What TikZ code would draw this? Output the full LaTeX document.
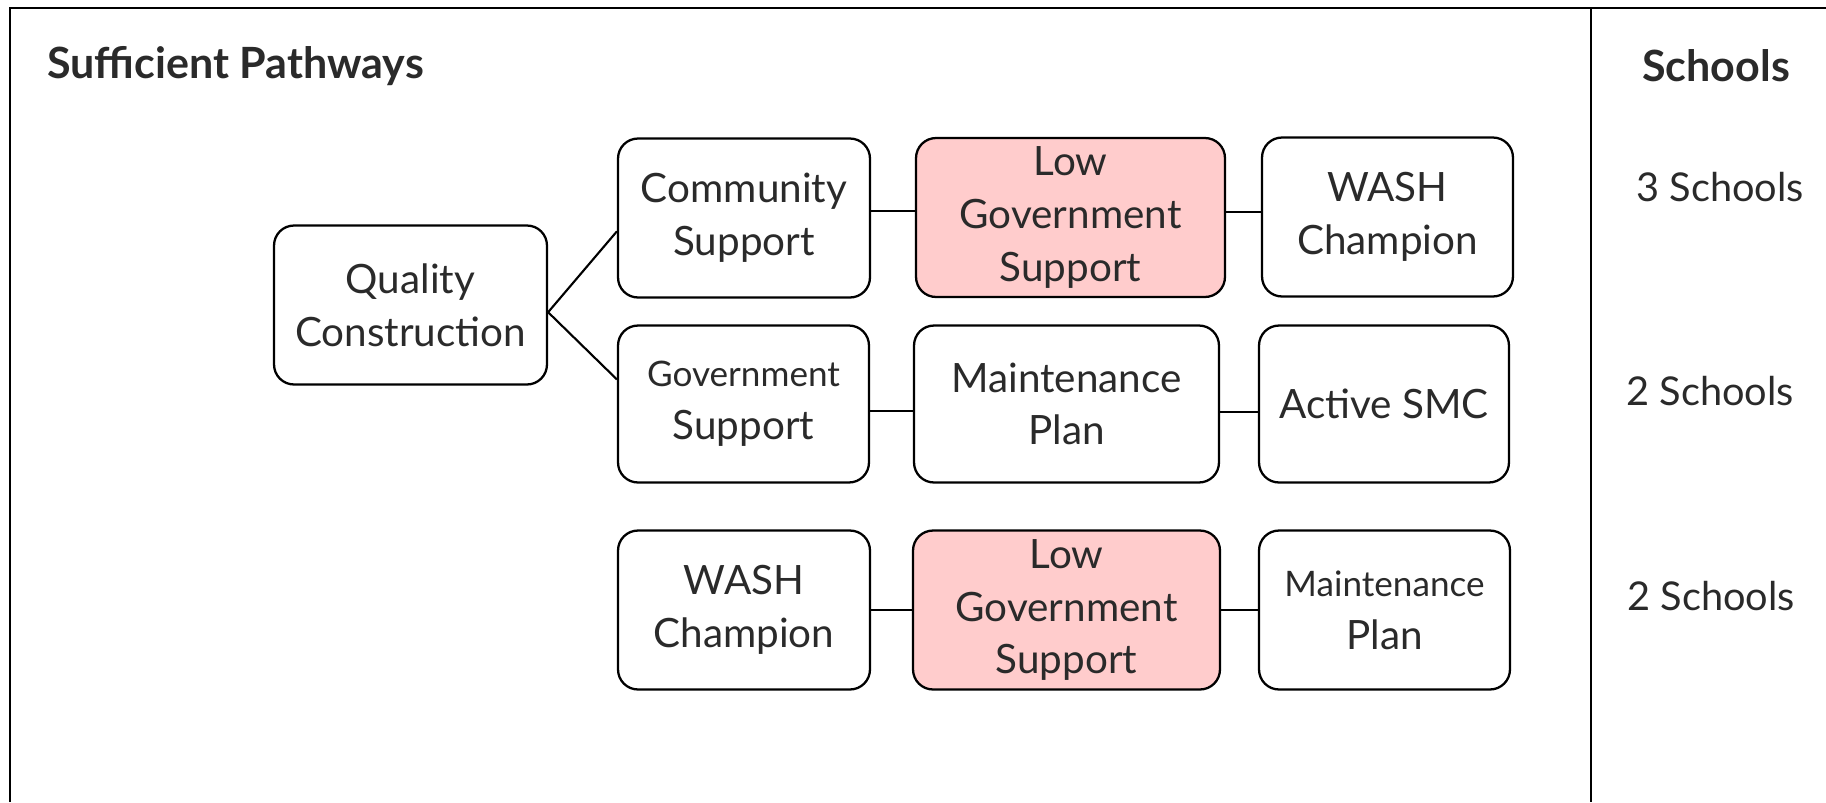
\documentclass[tikz,border=0pt]{standalone}
\usepackage{fontspec}
\setmainfont{Lato}
\usepackage{tikz}
\definecolor{lowpink}{HTML}{FFCCCC}
\definecolor{inkgray}{HTML}{2A2A2A}
\newcommand{\smalltxt}[1]{{\fontsize{20}{22}\selectfont #1}}

\begin{document}
\begin{tikzpicture}[x=0.02cm,y=-0.02cm,
  box/.style={draw, line width=1.3pt, rounded corners=0.4cm, align=center, text=inkgray,
    font=\fontsize{23}{30}\selectfont, minimum height=3.18cm, inner sep=0pt},
  lowbox/.style={box, fill=lowpink},
  link/.style={line width=1.2pt}]
\useasboundingbox (0,0) rectangle (1826,802);
\draw[line width=1.6pt] (10,802) -- (10,8) -- (1826,8);
\draw[line width=1.2pt] (1591,8) -- (1591,802);
\node[anchor=west, text=inkgray, font=\bfseries\fontsize{24.5}{28}\selectfont] (title) at (41,66) {Sufficient Pathways};
\node[text=inkgray, font=\bfseries\fontsize{24.5}{28}\selectfont] (schools) at (1716,66) {Schools};
% pathways
\node[box, minimum width=5.46cm] (qc) at (410.5,305) {Quality\\Construction};
\node[box, minimum width=5.04cm] (cs) at (744,218) {Community\\Support};
\node[lowbox, minimum width=6.18cm] (lg1) at (1070.5,217.5) {Low\\Government\\Support};
\node[box, minimum width=5.02cm] (wc1) at (1387.5,217) {WASH\\Champion};
\node[box, minimum width=5.02cm, minimum height=3.14cm] (gs) at (743.5,404) {\smalltxt{Government}\\Support};
\node[box, minimum width=6.1cm, minimum height=3.14cm] (mp1) at (1066.5,404) {Maintenance\\Plan};
\node[box, minimum width=5cm, minimum height=3.14cm] (sm) at (1384,404) {Active SMC};
\node[box, minimum width=5.04cm] (wc2) at (744,610) {WASH\\Champion};
\node[lowbox, minimum width=6.14cm] (lg2) at (1066.5,610) {Low\\Government\\Support};
\node[box, minimum width=5.02cm] (mp2) at (1384.5,610) {\smalltxt{Maintenance}\\Plan};
% counts
\node[text=inkgray, font=\fontsize{22.6}{26}\selectfont] (n1) at (1720,187) {3 Schools};
\node[text=inkgray, font=\fontsize{22.6}{26}\selectfont] (n2) at (1710,391) {2 Schools};
\node[text=inkgray, font=\fontsize{22.6}{26}\selectfont] (n3) at (1711,596) {2 Schools};
% links
\draw[link] (qc.357) -- (cs.186);
\draw[link] (qc.357) -- (gs.169);
\draw[link] (cs.3) -- (cs.3 -| lg1.west);
\draw[link] (lg1.2) -- (lg1.2 -| wc1.west);
\draw[link] (gs.357) -- (gs.357 -| mp1.west);
\draw[link] (mp1.357) -- (mp1.357 -| sm.west);
\draw[link] (wc2) -- (lg2);
\draw[link] (lg2) -- (mp2);
\end{tikzpicture}
\end{document}
